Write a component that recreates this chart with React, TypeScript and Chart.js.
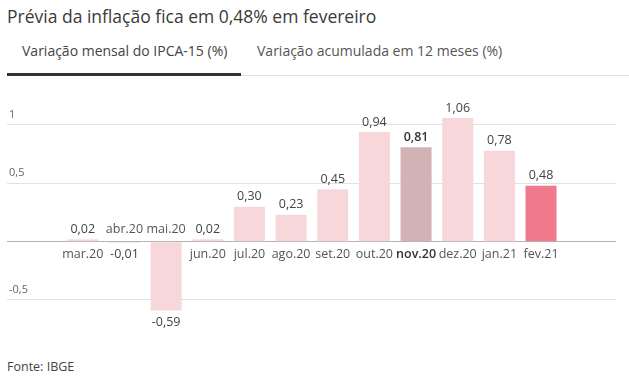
import React, { useEffect, useRef } from "react";
import { Chart, registerables } from "chart.js";

Chart.register(...registerables);

const categories = ["mar.20", "abr.20", "mai.20", "jun.20", "jul.20", "ago.20", "set.20", "out.20", "nov.20", "dez.20", "jan.21", "fev.21"];
const values = [0.02, -0.01, -0.59, 0.02, 0.3, 0.23, 0.45, 0.94, 0.81, 1.06, 0.78, 0.48];
const yTicks = [-0.5, 0, 0.5, 1];
const yTickLabels = ["-0,5", "", "0,5", "1"];
const highlighted = "nov.20";
const current = "fev.21";

const FONT = "'Open Sans', 'Noto Sans', sans-serif";

const fmt = (v: number) => v.toFixed(2).replace(".", ",");

export default function App() {
  const ref = useRef<HTMLCanvasElement | null>(null);

  useEffect(() => {
    document.body.style.margin = "0";
    const canvas = ref.current;
    if (!canvas) return;

    const colorFor = (c: string) =>
      c === highlighted ? "#d3b2b5" : c === current ? "#ee7a8b" : "#f8d7db";

    const labelPlugin = {
      id: "labels",
      afterDatasetsDraw(chart: any) {
        const ctx = chart.ctx;
        const yScale = chart.scales.y;
        const area = chart.chartArea;
        ctx.save();
        ctx.font = `11px ${FONT}`;
        ctx.fillStyle = "#666";
        ctx.textAlign = "left";
        ctx.textBaseline = "middle";
        yTicks.forEach((t, i) => {
          const lbl = yTickLabels[i];
          if (!lbl) return;
          ctx.fillText(lbl, area.left + 2, yScale.getPixelForValue(t) - 10);
        });
        const zeroY = yScale.getPixelForValue(0);
        const meta = chart.getDatasetMeta(0);
        meta.data.forEach((bar: any, i: number) => {
          const v = values[i];
          const bold = categories[i] === highlighted;
          ctx.textAlign = "center";
          ctx.textBaseline = "middle";
          ctx.font = `${bold ? "600 " : ""}12.5px ${FONT}`;
          ctx.fillStyle = bold ? "#333" : "#444";
          if (v >= 0) ctx.fillText(fmt(v), bar.x, bar.y - 10);
          else ctx.fillText(fmt(v), bar.x, bar.y + 12);
          ctx.fillStyle = bold ? "#333" : "#555";
          if (v >= 0) ctx.fillText(categories[i], bar.x, zeroY + 13);
          else ctx.fillText(categories[i], bar.x, zeroY - 12);
        });
        ctx.restore();
      },
    };

    const chart = new Chart(canvas, {
      type: "bar",
      data: {
        datasets: [
          {
            data: values.map((v, i) => ({ x: i, y: v })),
            backgroundColor: categories.map(colorFor),
            borderWidth: 0,
            barPercentage: 0.745,
            categoryPercentage: 1,
          },
        ],
      },
      options: {
        animation: false,
        responsive: false,
        maintainAspectRatio: false,
        layout: { padding: { left: 7, right: 13, top: 0, bottom: 0 } },
        plugins: { legend: { display: false }, tooltip: { enabled: false } },
        scales: {
          x: {
            type: "linear",
            min: -1.82,
            max: 12.8,
            offset: false,
            display: false,
            grid: { offset: false },
          },
          y: {
            min: -0.9286,
            max: 1.3857,
            afterBuildTicks: (scale: any) => {
              scale.ticks = yTicks.map((v) => ({ value: v }));
            },
            ticks: { display: false },
            border: { display: false },
            grid: {
              drawTicks: false,
              color: (c: any) => (c.tick && c.tick.value === 0 ? "#b5b5b5" : "#e2e2e2"),
              lineWidth: 1,
            },
          },
        },
      },
      plugins: [labelPlugin],
    });
    return () => chart.destroy();
  }, []);

  return (
    <div style={{ position: "fixed", left: 0, top: 0, width: 629, height: 381, background: "#fff", fontFamily: FONT, overflow: "hidden" }}>
      <div style={{ position: "absolute", left: 7, top: 4, fontSize: 17.5, color: "#3a3a3a", whiteSpace: "nowrap" }}>
        Prévia da inflação fica em 0,48% em fevereiro
      </div>
      <div style={{ position: "absolute", left: 22, top: 41, fontSize: 14, color: "#444", whiteSpace: "nowrap" }}>
        Variação mensal do IPCA-15 (%)
      </div>
      <div style={{ position: "absolute", left: 257, top: 41, fontSize: 14, color: "#555", whiteSpace: "nowrap" }}>
        Variação acumulada em 12 meses (%)
      </div>
      <div style={{ position: "absolute", left: 241, top: 75, width: 388, height: 1, background: "#dedede" }} />
      <div style={{ position: "absolute", left: 7, top: 73, width: 234, height: 3, background: "#333" }} />
      <canvas ref={ref} width={629} height={270} style={{ position: "absolute", left: 0, top: 80, width: 629, height: 270 }} />
      <div style={{ position: "absolute", left: 7, top: 358, fontSize: 12.5, color: "#444", whiteSpace: "nowrap" }}>
        Fonte: IBGE
      </div>
    </div>
  );
}
